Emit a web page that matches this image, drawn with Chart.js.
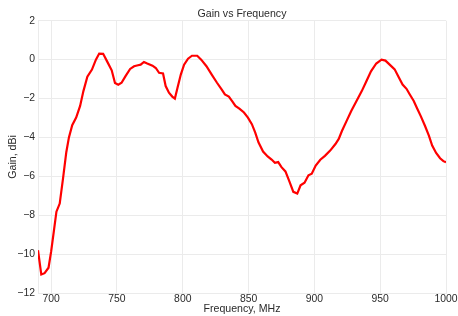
<!DOCTYPE html>
<html>
<head>
<meta charset="utf-8">
<script src="https://cdn.jsdelivr.net/npm/chart.js@4/dist/chart.umd.min.js"></script>
<style>
  html, body { margin: 0; padding: 0; background: #fff; }
  #wrap { width: 458px; height: 316px; }
</style>
</head>
<body>
<div id="wrap"><canvas id="grafico"></canvas></div>
<script>
// dados
const freq = [690, 692.5, 695, 698, 700, 702, 704, 706.5, 709, 711.5, 713.5, 716, 719, 722, 724.5,
  727.5, 731, 734, 736.5, 739.5, 742.5, 746, 748.5, 751, 753.5, 756.5, 760, 763, 766, 768, 770.5,
  773, 777, 779.5, 782, 785, 787, 789.5, 792, 794, 796, 798.5, 801, 804, 807, 811, 814, 818, 822,
  826, 829.5, 832, 835, 837.5, 840, 843, 846.5, 849.5, 852.5, 855, 857.5, 861, 864.5, 867.5, 870,
  872.5, 875, 878, 881, 884, 887, 889.5, 892.5, 895.5, 898, 901, 904.5, 908, 912, 916, 918.5, 921,
  924.5, 928, 932, 936, 939.5, 943, 947, 951, 954, 958, 961, 964, 967, 970, 972.5, 975.5, 978, 981,
  984, 987, 989.5, 992.5, 995.5, 998, 1000];
const gain = [-9.8, -11.05, -10.98, -10.7, -9.86, -8.84, -7.82, -7.4, -6.12, -4.76, -4.0, -3.37, -2.98, -2.38, -1.62,
  -0.88, -0.51, 0.0, 0.31, 0.3, -0.09, -0.55, -1.2, -1.29, -1.19, -0.85, -0.48, -0.34, -0.29, -0.26, -0.12,
  -0.2, -0.31, -0.43, -0.68, -0.71, -1.36, -1.7, -1.9, -2.0, -1.45, -0.77, -0.26, 0.05, 0.2, 0.2, 0.0, -0.34, -0.77,
  -1.19, -1.53, -1.79, -1.9, -2.13, -2.38, -2.52, -2.72, -2.98, -3.32, -3.74, -4.25, -4.73, -4.98, -5.14, -5.31,
  -5.27, -5.53, -5.75, -6.26, -6.8, -6.89, -6.46, -6.33, -5.95, -5.87, -5.45, -5.15, -4.95, -4.68, -4.34, -4.08, -3.66,
  -3.15, -2.64, -2.13, -1.62, -1.11, -0.6, -0.2, 0.0, -0.05, -0.31, -0.5, -0.9, -1.28, -1.5, -1.79, -2.13, -2.5, -2.93,
  -3.4, -3.91, -4.42, -4.8, -5.07, -5.22, -5.28];
const xTicks = [700, 750, 800, 850, 900, 950, 1000];
const yTicks = [-12, -10, -8, -6, -4, -2, 0, 2];

const corGrade = '#ebebeb';
const corTexto = '#2b2b2b';
const fonte = 'Arial, "Liberation Sans", Helvetica, sans-serif';

new Chart(document.querySelector('#grafico'), {
    type: 'line',
    data: {
        datasets: [{
            data: freq.map((f, i) => ({ x: f, y: gain[i] })),
            borderColor: '#ff0000',
            borderWidth: 2.2,
            pointRadius: 0,
            tension: 0,
            fill: false
        }]
    },
    options: {
        responsive: true,
        maintainAspectRatio: false,
        animation: false,
        layout: { padding: { left: 0, right: 12, top: 0, bottom: 0 } },
        plugins: {
            legend: { display: false },
            tooltip: { enabled: false },
            title: {
                display: true,
                text: 'Gain vs Frequency',
                fullSize: false,
                color: corTexto,
                font: { family: fonte, size: 10.6, weight: 'normal' },
                padding: { top: 8, bottom: 0 }
            }
        },
        scales: {
            x: {
                type: 'linear',
                min: 690,
                max: 1000,
                afterBuildTicks: axis => { axis.ticks = xTicks.map(v => ({ value: v })); },
                afterFit: s => { s.height = 23; },
                grid: { color: corGrade, drawTicks: false, tickLength: 0 },
                border: { color: corGrade },
                ticks: {
                    color: corTexto,
                    padding: 0,
                    maxRotation: 0,
                    font: { family: fonte, size: 10.4 },
                    callback: v => String(v)
                },
                title: {
                    display: true,
                    text: 'Frequency, MHz',
                    color: corTexto,
                    font: { family: fonte, size: 10.6 },
                    padding: { top: 0, bottom: 1 }
                }
            },
            y: {
                min: -12,
                max: 2,
                afterBuildTicks: axis => { axis.ticks = yTicks.map(v => ({ value: v })); },
                afterFit: s => { s.width = 38; },
                grid: { color: corGrade, drawTicks: false, tickLength: 0 },
                border: { color: corGrade },
                ticks: {
                    color: corTexto,
                    padding: 3,
                    font: { family: fonte, size: 10.4 },
                    callback: v => String(v).replace('-', '\u2212')
                },
                title: {
                    display: true,
                    text: 'Gain, dBi',
                    color: corTexto,
                    font: { family: fonte, size: 10.6 },
                    padding: { top: 7, bottom: 0 }
                }
            }
        }
    }
});
</script>
</body>
</html>
